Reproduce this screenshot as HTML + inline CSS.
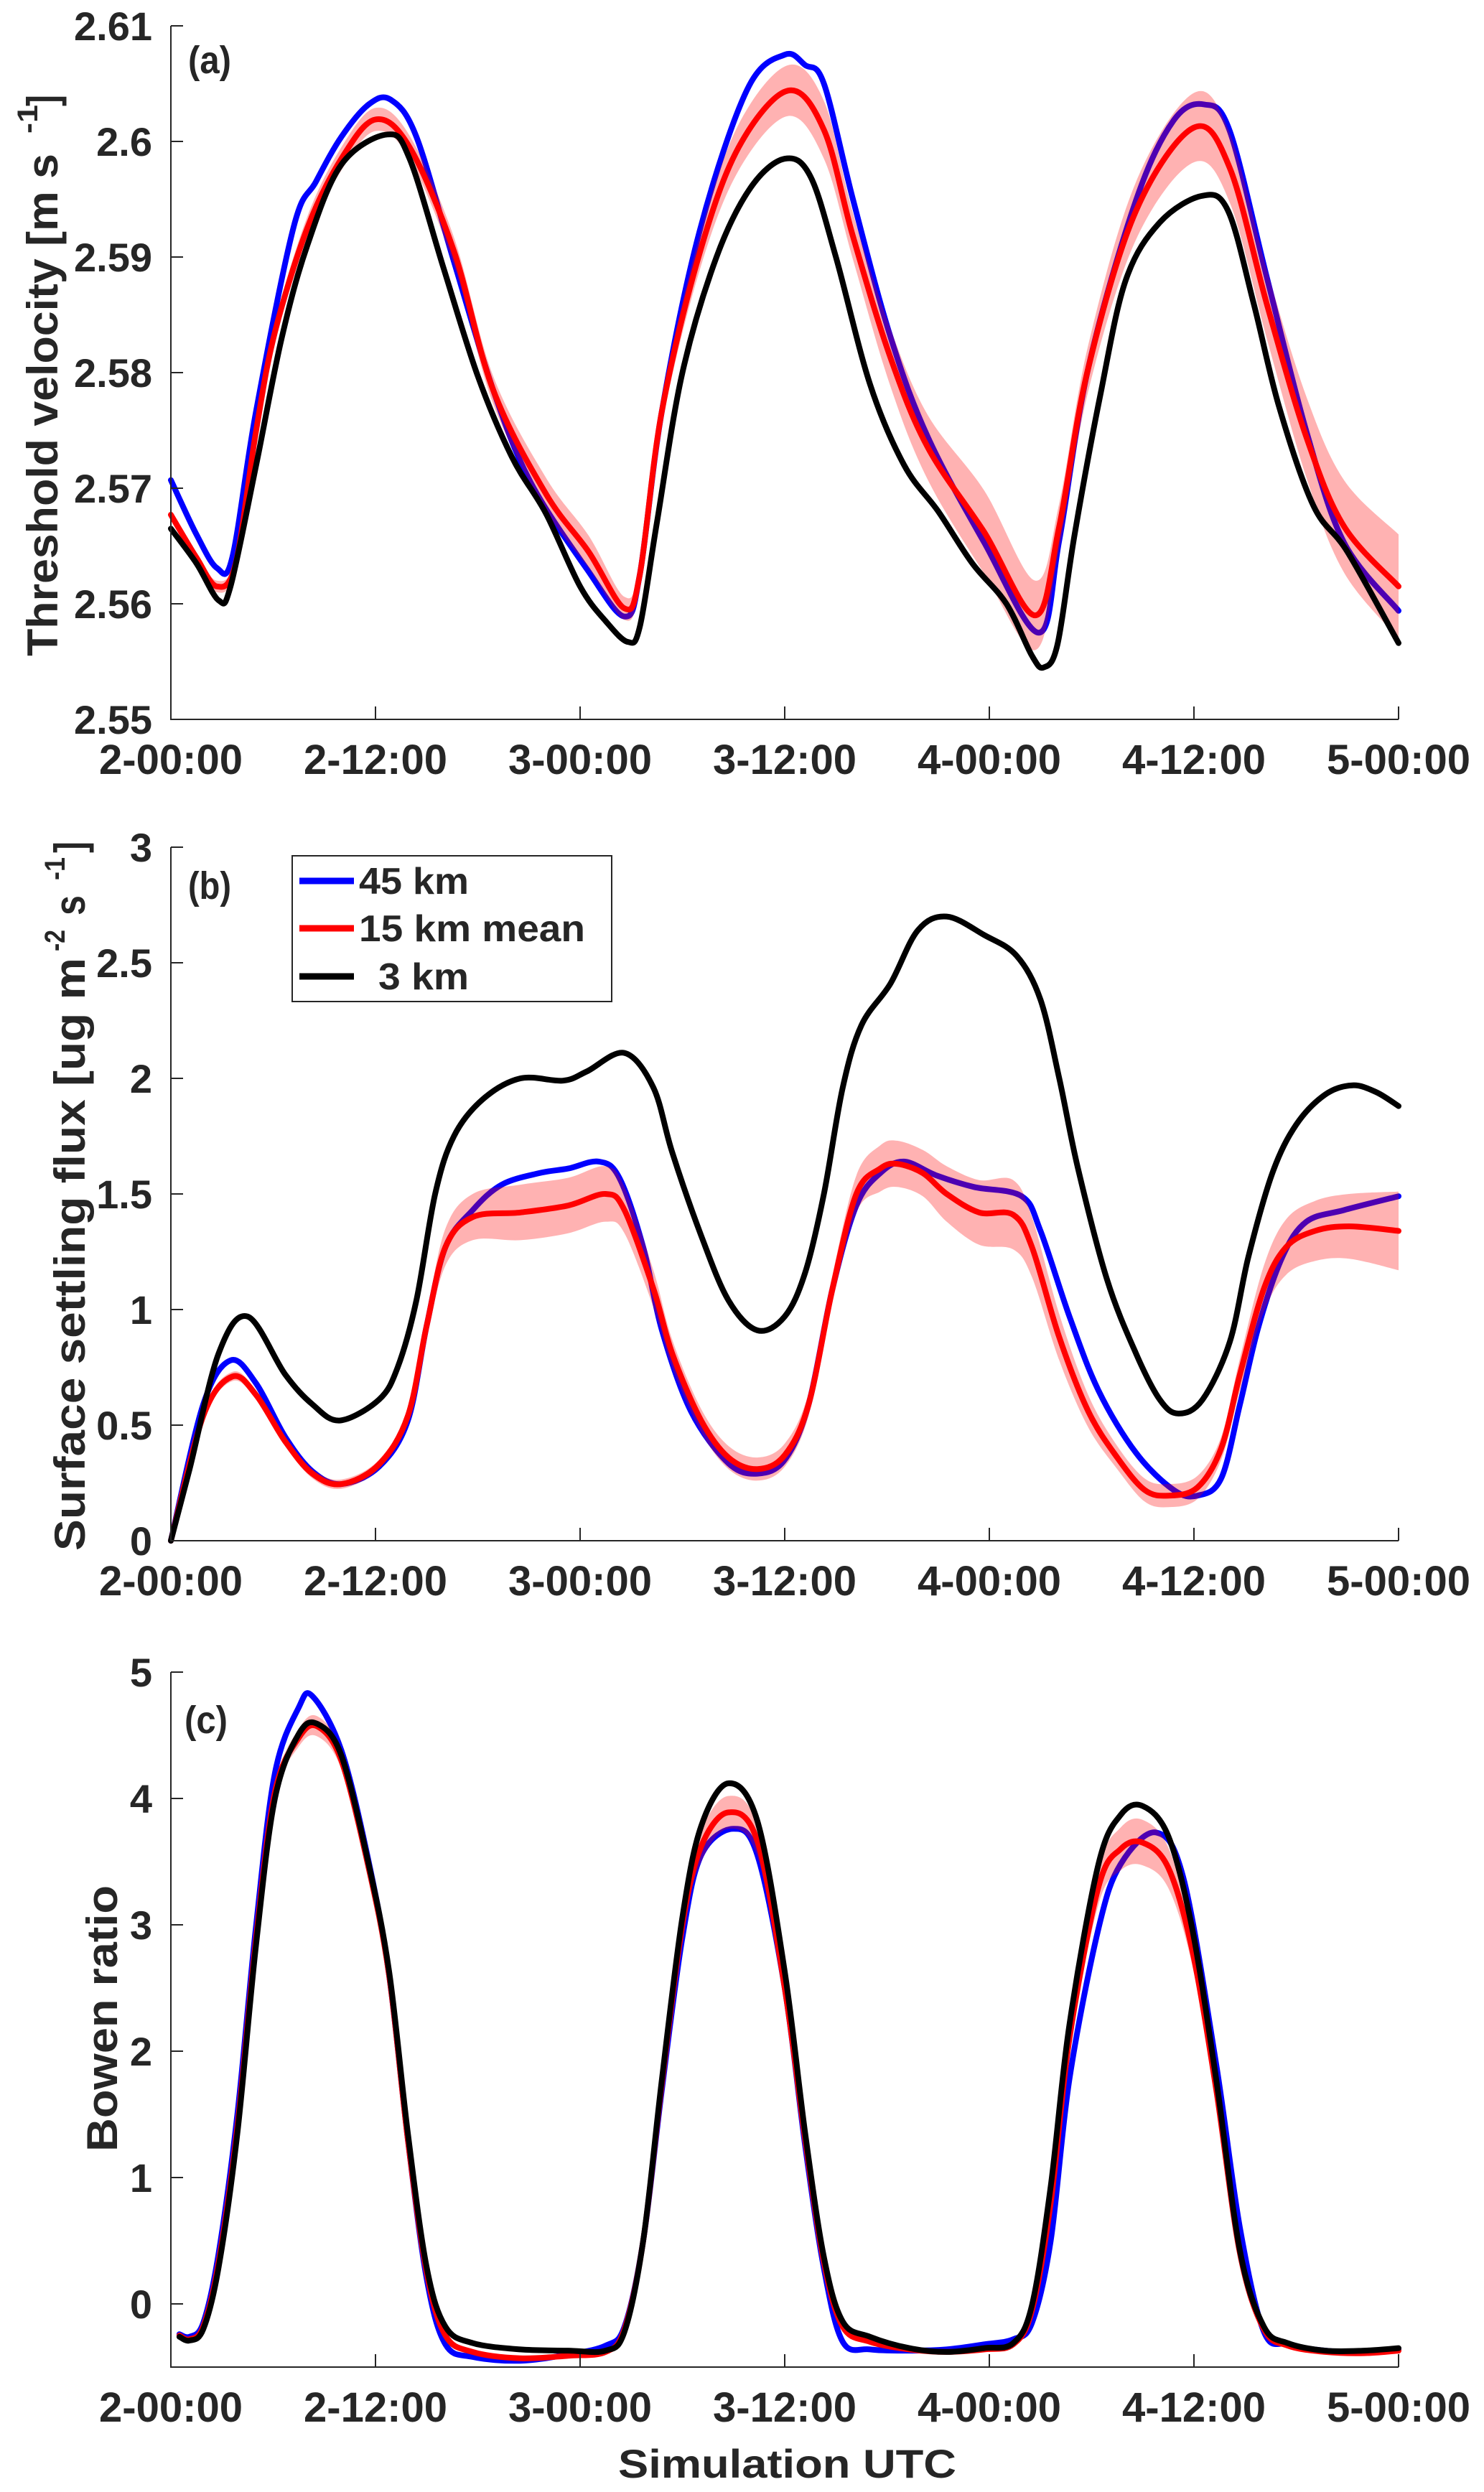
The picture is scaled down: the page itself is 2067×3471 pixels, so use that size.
<!DOCTYPE html>
<html><head><meta charset="utf-8"><title>Threshold velocity, settling flux, Bowen ratio</title>
<style>
html,body{margin:0;padding:0;background:#fff;}
svg{display:block;}
text{font-family:"Liberation Sans",Arial,sans-serif;fill:#262626;font-weight:bold;}
</style></head>
<body>
<svg id="chart" width="2067" height="3471" viewBox="0 0 2067 3471" xmlns="http://www.w3.org/2000/svg">
<rect x="0" y="0" width="2067" height="3471" fill="#fff"/>
</svg>
<script>
// ---------- Data (hours since 2-00:00) ----------
const xTickLabels = ['2-00:00','2-12:00','3-00:00','3-12:00','4-00:00','4-12:00','5-00:00'];
const xTickHours = [0,12,24,36,48,60,72];

// Panel (a) threshold velocity
const aTicks = [2.55,2.56,2.57,2.58,2.59,2.60,2.61];
const aTickLabels = ['2.55','2.56','2.57','2.58','2.59','2.6','2.61'];
const aBlackT = [0,1.5,2.8,3.5,5,6.5,8,10,12.7,14,16,18,20,22,24,25.5,26.8,27.5,28.5,30,32,34,36,37.5,39,41,43,45,47,49,50.5,51.2,52,53,54.5,56,58,60.5,62,63.5,65,67,69,72];
const aBlackV = [2.5665,2.5635,2.5603,2.5615,2.572,2.583,2.591,2.598,2.6006,2.5985,2.589,2.5797,2.5727,2.5678,2.5615,2.5585,2.5567,2.558,2.567,2.580,2.590,2.596,2.5985,2.597,2.590,2.579,2.572,2.568,2.5635,2.560,2.5555,2.5545,2.5565,2.566,2.578,2.588,2.593,2.5953,2.594,2.586,2.577,2.5685,2.5645,2.5566];
const aRedT = [0,1.5,2.7,3.8,5,6.1,8,10,12,14,16.6,18.9,22,24.5,26.6,27.5,28.8,31,33.3,36.2,38.3,40,42.2,44.4,47.7,50.7,52.1,53.8,56.6,60,62.1,64.3,66.6,68.8,72];
const aRedV = [2.5677,2.564,2.5615,2.5635,2.575,2.5835,2.5925,2.5985,2.6019,2.5995,2.5905,2.5785,2.5695,2.5645,2.5596,2.5625,2.5767,2.5903,2.5995,2.6044,2.601,2.5918,2.5813,2.5735,2.5662,2.559,2.5667,2.5804,2.594,2.6012,2.5977,2.5858,2.5744,2.5667,2.5615];
const aRedSpread = [0.0004,0.0004,0.0005,0.0005,0.0006,0.0008,0.001,0.001,0.001,0.001,0.0012,0.0012,0.0014,0.0014,0.001,0.001,0.0012,0.0015,0.002,0.0022,0.0025,0.002,0.0025,0.0028,0.0036,0.003,0.002,0.002,0.0025,0.003,0.003,0.003,0.0035,0.004,0.0045];
const aBlueT = [0,1.5,2.7,3.6,5,7.2,8.5,10,11.6,12.9,14.4,16.6,18.9,21.1,24.4,26.6,27.5,28.8,31,33.8,36,37.2,38.3,40,42.2,44.4,47.7,50.9,52.1,53.8,56.6,58.8,60.6,62.1,64.3,66.6,68.8,72];
const aBlueV = [2.5707,2.566,2.5631,2.564,2.5767,2.5926,2.5965,2.6004,2.6032,2.6036,2.6004,2.5896,2.5785,2.5705,2.563,2.5589,2.5625,2.5767,2.5922,2.6045,2.6075,2.6066,2.605,2.595,2.5831,2.5744,2.5653,2.5575,2.5655,2.5804,2.5949,2.6018,2.6032,2.6009,2.5881,2.5749,2.5653,2.5594];

// Panel (b) surface settling flux
const bTicks = [0,0.5,1,1.5,2,2.5,3];
const bTickLabels = ['0','0.5','1','1.5','2','2.5','3'];
const bBlackT = [0,1.1,2.8,4.5,6.7,8.3,9.9,12.2,13.3,14.4,15.5,16.6,18.3,20.5,23,24.4,26.6,28.3,29.4,31.1,32.7,34.4,36,37.2,38.3,39.4,40.5,42.2,43.8,45.5,47.7,49.6,51,52.1,53.2,54.9,56.6,58,59.1,60.5,62.1,63.2,64.6,66,67.7,69.3,70.7,72];
const bBlackV = [0,0.31,0.81,0.97,0.72,0.59,0.52,0.61,0.75,1.04,1.5,1.75,1.91,2.0,1.99,2.03,2.11,1.96,1.68,1.32,1.04,0.91,0.97,1.16,1.5,1.96,2.23,2.41,2.64,2.70,2.62,2.53,2.34,2.0,1.61,1.13,0.81,0.61,0.55,0.61,0.86,1.23,1.59,1.80,1.93,1.97,1.94,1.88];
const bBlueT = [0,1.9,3.5,5,6.7,8.3,10,12.2,13.9,15,16.1,17.7,19.4,21.6,23.3,25.1,26.3,27.7,28.8,30.5,32.7,34.4,36,37.4,38.8,40.2,41.6,43,44.9,47.1,49.9,51,52.7,54.4,56.6,58.8,60.2,61.6,62.7,63.8,65.2,66.6,68.8,72];
const bBlueV = [0,0.59,0.78,0.68,0.45,0.30,0.245,0.32,0.52,0.93,1.27,1.43,1.54,1.59,1.61,1.64,1.57,1.27,0.91,0.56,0.335,0.29,0.35,0.59,1.09,1.45,1.59,1.64,1.58,1.53,1.49,1.34,0.97,0.65,0.38,0.22,0.195,0.27,0.59,0.93,1.23,1.38,1.43,1.49];
const bRedT = [0,1.9,3.6,5,6.7,8.3,10,12.2,13.9,15,16.1,17.7,20.5,23.3,25.5,26.6,28.3,29.4,31.1,32.7,34.4,36,37.4,38.8,40.2,41.6,42.6,44.1,45.5,47.4,49.4,50.5,52.1,53.8,55.5,57.1,58.5,60.2,61.6,62.7,64.1,65.4,67.1,69.1,72];
const bRedV = [0,0.54,0.71,0.63,0.43,0.29,0.245,0.33,0.54,0.93,1.27,1.40,1.42,1.45,1.50,1.43,1.09,0.81,0.52,0.36,0.31,0.37,0.59,1.09,1.50,1.61,1.63,1.59,1.50,1.42,1.41,1.27,0.88,0.56,0.36,0.22,0.195,0.23,0.40,0.72,1.09,1.27,1.34,1.36,1.34];
const bRedSpread = [0,0.02,0.02,0.02,0.02,0.02,0.02,0.02,0.03,0.05,0.08,0.1,0.12,0.12,0.12,0.1,0.08,0.06,0.05,0.05,0.05,0.05,0.05,0.06,0.08,0.1,0.1,0.1,0.12,0.14,0.15,0.13,0.1,0.07,0.05,0.05,0.05,0.05,0.05,0.07,0.1,0.12,0.13,0.14,0.17];

// Panel (c) Bowen ratio
const cTicks = [0,1,2,3,4,5];
const cTickLabels = ['0','1','2','3','4','5'];
const cBlackT = [0.5,1.1,1.9,2.8,3.9,5,6.1,7.5,8.6,10,11.6,12.8,13.9,15,16.1,17.7,20.5,23.3,25.5,26.6,27.7,28.8,30,31.1,32.7,34.4,36,37.2,38.3,39.4,41,43.3,45.5,47.7,49.4,50.5,51.6,52.7,54.4,55.7,57,58.5,59.9,61.3,62.7,64.1,65.5,67.7,70,72];
const cBlackV = [-0.26,-0.29,-0.2,0.29,1.35,2.85,4.0,4.51,4.59,4.34,3.48,2.63,1.35,0.29,-0.18,-0.31,-0.36,-0.37,-0.37,-0.22,0.5,1.78,3.06,3.78,4.12,3.82,2.63,1.35,0.37,-0.14,-0.26,-0.35,-0.38,-0.35,-0.31,-0.01,0.93,2.21,3.48,3.87,3.94,3.70,2.97,1.78,0.42,-0.18,-0.31,-0.37,-0.37,-0.35];
const cBlueT = [0.5,1.1,1.9,2.8,3.9,5,6.1,7.5,8.3,10,11.6,12.8,13.9,15,16.1,17.7,20.5,23.3,25.5,26.6,27.7,28.8,30,31.1,33,34.4,36,37.2,38.3,39.4,41,43.3,45.5,47.7,49.4,50.5,51.6,52.7,54.4,55.7,57.8,59.4,61.3,62.7,64.1,65.5,67.7,70,72];
const cBlueV = [-0.24,-0.26,-0.15,0.4,1.5,3.0,4.2,4.72,4.81,4.38,3.5,2.6,1.3,0.2,-0.32,-0.42,-0.45,-0.40,-0.33,-0.18,0.5,1.7,2.9,3.55,3.76,3.55,2.5,1.25,0.28,-0.3,-0.36,-0.37,-0.36,-0.32,-0.28,-0.15,0.5,1.78,2.97,3.48,3.73,3.36,1.9,0.6,-0.22,-0.32,-0.37,-0.38,-0.36];
const cRedT = cBlackT.slice();
const cRedV = [-0.25,-0.28,-0.18,0.33,1.4,2.9,4.05,4.48,4.57,4.3,3.45,2.6,1.3,0.25,-0.25,-0.38,-0.43,-0.41,-0.38,-0.2,0.5,1.75,3.0,3.62,3.89,3.66,2.5,1.3,0.33,-0.18,-0.3,-0.36,-0.38,-0.36,-0.32,-0.05,0.8,2.1,3.3,3.6,3.65,3.45,2.8,1.7,0.4,-0.2,-0.33,-0.38,-0.39,-0.37];
const cRedSpread = [0.02,0.02,0.02,0.03,0.03,0.04,0.05,0.07,0.08,0.07,0.05,0.04,0.03,0.03,0.02,0.02,0.02,0.02,0.02,0.02,0.03,0.05,0.08,0.12,0.13,0.12,0.08,0.05,0.03,0.02,0.02,0.02,0.02,0.02,0.02,0.02,0.04,0.08,0.14,0.17,0.18,0.16,0.12,0.08,0.04,0.02,0.02,0.02,0.02,0.02];

// ---------- Drawing ----------
const NS = 'http://www.w3.org/2000/svg';
const svg = document.getElementById('chart');
function mk(tag, attrs, parent){
  const e = document.createElementNS(NS, tag);
  for (const k in attrs) e.setAttribute(k, attrs[k]);
  (parent || svg).appendChild(e);
  return e;
}
function segs(pts){
  let d = '';
  for (let i = 0; i < pts.length - 1; i++){
    const p0 = pts[i-1] || pts[i], p1 = pts[i], p2 = pts[i+1], p3 = pts[i+2] || pts[i+1];
    const c1x = p1[0] + (p2[0]-p0[0])/6, c1y = p1[1] + (p2[1]-p0[1])/6;
    const c2x = p2[0] - (p3[0]-p1[0])/6, c2y = p2[1] - (p3[1]-p1[1])/6;
    d += ' C' + c1x.toFixed(1)+','+c1y.toFixed(1)+' '+c2x.toFixed(1)+','+c2y.toFixed(1)+' '+p2[0].toFixed(1)+','+p2[1].toFixed(1);
  }
  return d;
}
function smoothPath(pts){ return 'M' + pts[0][0].toFixed(1)+','+pts[0][1].toFixed(1) + segs(pts); }

const X0 = 238, X1 = 1948;
function sx(h){ return X0 + (h/72)*(X1-X0); }

function drawPanel(cfg){
  const g = mk('g', {});
  
  
  const sy = v => cfg.yBot - (v - cfg.vMin)/(cfg.vMax - cfg.vMin)*(cfg.yBot - cfg.yTop);

  const blue = mk('path', {d: smoothPath(cfg.blueT.map((t,i)=>[sx(t), sy(cfg.blueV[i])])), fill:'none', stroke:'#0000ff', 'stroke-width':8, 'stroke-linejoin':'round', 'stroke-linecap':'round'}, g);
  
  
  const up = cfg.redT.map((t,i)=>[sx(t), sy(cfg.redV[i] + cfg.redS[i])]);
  const lo = cfg.redT.map((t,i)=>[sx(t), sy(cfg.redV[i] - cfg.redS[i])]).reverse();
  const band = mk('path', {d: smoothPath(up) + ' L' + lo[0][0].toFixed(1)+','+lo[0][1].toFixed(1) + segs(lo) + ' Z', fill:'#ff0000', 'fill-opacity':0.3, stroke:'none'}, g);
  
  
  const red = mk('path', {d: smoothPath(cfg.redT.map((t,i)=>[sx(t), sy(cfg.redV[i])])), fill:'none', stroke:'#ff0000', 'stroke-width':8, 'stroke-linejoin':'round', 'stroke-linecap':'round'}, g);
  
  
  const black = mk('path', {d: smoothPath(cfg.blackT.map((t,i)=>[sx(t), sy(cfg.blackV[i])])), fill:'none', stroke:'#000000', 'stroke-width':8, 'stroke-linejoin':'round', 'stroke-linecap':'round'}, g);
  
  

  const ax = mk('path', {d:'M'+X0+','+cfg.yTop+' L'+X0+','+cfg.yBot+' L'+X1+','+cfg.yBot, fill:'none', stroke:'#262626', 'stroke-width':2}, g);
  
  
  cfg.ticks.forEach((v,i)=>{
    const y = sy(v);
    const tk = mk('line', {x1:X0, x2:X0+17, y1:y, y2:y, stroke:'#262626', 'stroke-width':2}, g);
    
    
    const t = mk('text', {x:212, y:y+20, 'text-anchor':'end', 'font-size':56}, g);
    t.textContent = cfg.tickLabels[i];
    
    
  });
  xTickHours.forEach((h,i)=>{
    const x = sx(h);
    const tk = mk('line', {x1:x, x2:x, y1:cfg.yBot, y2:cfg.yBot-18, stroke:'#262626', 'stroke-width':2}, g);
    
    
    const t = mk('text', {x:x-100, y:cfg.yBot+76, 'font-size':58, textLength:200, lengthAdjust:'spacingAndGlyphs'}, g);
    t.textContent = xTickLabels[i];
    
    
  });
  const pl = mk('text', {x:cfg.labX, y:cfg.labY, 'font-size':54, textLength:60, lengthAdjust:'spacingAndGlyphs'}, g);
  pl.textContent = cfg.label;
  
  
  return g;
}

drawPanel({name:'panel-a-threshold-velocity', yTop:36, yBot:1002, vMin:2.55, vMax:2.61, ticks:aTicks, tickLabels:aTickLabels,
  blueT:aBlueT, blueV:aBlueV, redT:aRedT, redV:aRedV, redS:aRedSpread, blackT:aBlackT, blackV:aBlackV, label:'(a)', labX:262, labY:102});
drawPanel({name:'panel-b-settling-flux', yTop:1180, yBot:2146, vMin:0, vMax:3, ticks:bTicks, tickLabels:bTickLabels,
  blueT:bBlueT, blueV:bBlueV, redT:bRedT, redV:bRedV, redS:bRedSpread, blackT:bBlackT, blackV:bBlackV, label:'(b)', labX:262, labY:1252});
drawPanel({name:'panel-c-bowen-ratio', yTop:2329, yBot:3297, vMin:-0.5, vMax:5, ticks:cTicks, tickLabels:cTickLabels,
  blueT:cBlueT, blueV:cBlueV, redT:cRedT, redV:cRedV, redS:cRedSpread, blackT:cBlackT, blackV:cBlackV, label:'(c)', labX:257, labY:2414});

function rotText(str, x, y, size, len, name){
  const t = mk('text', {transform:'translate('+x+','+y+') rotate(-90)', x:0, y:0, 'font-size':size, textLength:len, lengthAdjust:'spacingAndGlyphs'});
  t.textContent = str;
  
  
  return t;
}
rotText('Threshold velocity [m s', 80, 914, 60, 700, 'y-axis-title-a');
rotText('-1', 52, 186, 40, 40, 'y-axis-title-a-exponent');
rotText(']', 80, 148, 60, 16, 'y-axis-title-a-bracket');

rotText('Surface settling  flux [ug m', 118, 2160, 60, 826, 'y-axis-title-b');
rotText('-2', 90, 1325, 40, 30, 'y-axis-title-b-exponent-1');
rotText('s', 118, 1275, 60, 28, 'y-axis-title-b-s');
rotText('-1', 90, 1226, 40, 32, 'y-axis-title-b-exponent-2');
rotText(']', 118, 1188, 60, 16, 'y-axis-title-b-bracket');

rotText('Bowen  ratio', 163, 2997, 60, 371, 'y-axis-title-c');

const xt = mk('text', {x:861, y:3451, 'font-size':56, textLength:471, lengthAdjust:'spacingAndGlyphs'});
xt.textContent = 'Simulation UTC';



const lg = mk('g', {});


const lbox = mk('rect', {x:407, y:1192, width:445, height:203, fill:'#fff', stroke:'#262626', 'stroke-width':2}, lg);


const legNames = ['45 km','15 km mean','3 km'];
const legColors = ['#0000ff','#ff0000','#000000'];
const legY = [1227,1293,1360];
const legTX = [500,500,527];
const legLen = [153,315,126];
legNames.forEach((n,i)=>{
  const l = mk('line', {x1:417, x2:493, y1:legY[i], y2:legY[i], stroke:legColors[i], 'stroke-width':9}, lg);
  
  
  const t = mk('text', {x:legTX[i], y:legY[i]+18, 'font-size':52, textLength:legLen[i], lengthAdjust:'spacingAndGlyphs'}, lg);
  t.textContent = n;
  
  
});
</script>
</body></html>
